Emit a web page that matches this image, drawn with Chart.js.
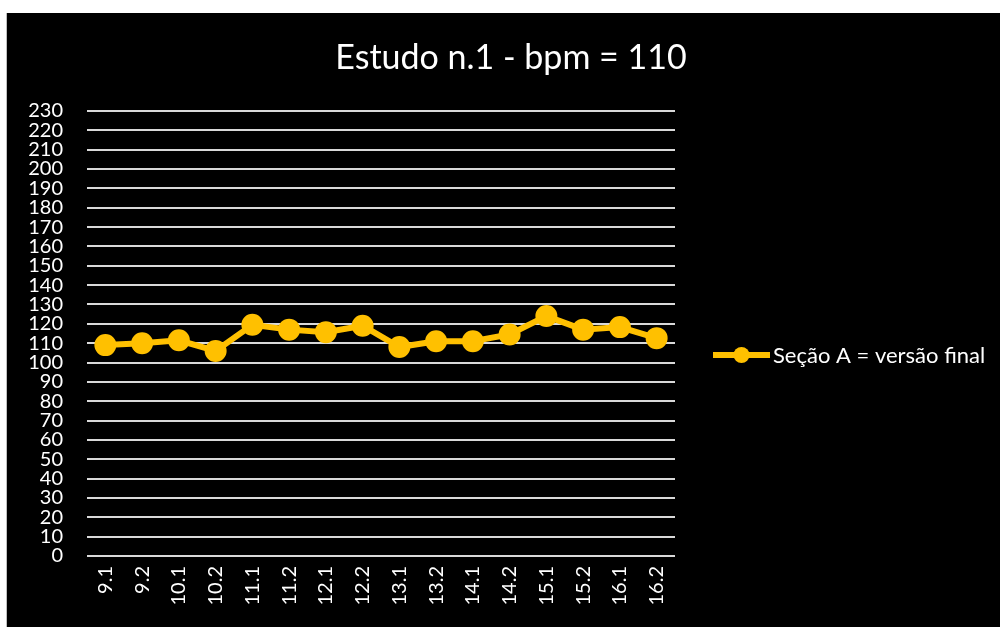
<!DOCTYPE html>
<html lang="pt-BR">
  <head>
    <meta charset="UTF-8" />
    <title>Estudo n.1</title>
    <script src="https://cdn.jsdelivr.net/npm/chart.js@4/dist/chart.umd.min.js"></script>
    <style>
      html, body { margin: 0; padding: 0; background: #fff; }
      .box {
        position: absolute;
        left: 6px;
        top: 13px;
        width: 994px;
        height: 614px;
        border-left: 1px solid #bfbfbf;
        background: #000;
      }
      canvas { display: block; }
    </style>
  </head>
  <body>
    <div class="box">
      <canvas id="chart" width="993" height="614"></canvas>
    </div>
    <script>
      const categorias = ["9.1", "9.2", "10.1", "10.2", "11.1", "11.2", "12.1", "12.2",
        "13.1", "13.2", "14.1", "14.2", "15.1", "15.2", "16.1", "16.2"];
      const bpm = [109, 110, 111.5, 106, 119.5, 117, 115.7, 119, 108, 111, 111, 114.5,
        124, 117, 118.3, 112.6];
      const serie = "Seção A = versão final";
      const titulo = "Estudo n.1 - bpm = 110";
      const yMin = 0, yMax = 230, yStep = 10;

      const amarelo = "#ffc000";
      const fonte = "Lato, 'Open Sans', sans-serif";

      // titulo e legenda desenhados a mao (o titulo do Excel fica centrado no grafico todo)
      const extras = {
        id: "extras",
        afterDraw(chart) {
          const ctx = chart.ctx;
          ctx.save();
          ctx.fillStyle = "#fff";
          ctx.font = "34px " + fonte;
          ctx.textAlign = "center";
          ctx.textBaseline = "middle";
          ctx.fillText(titulo, 504, 45);

          const y = 342;
          ctx.strokeStyle = amarelo;
          ctx.lineWidth = 6;
          ctx.beginPath();
          ctx.moveTo(706, y);
          ctx.lineTo(763, y);
          ctx.stroke();
          ctx.fillStyle = amarelo;
          ctx.beginPath();
          ctx.arc(734.5, y, 8, 0, Math.PI * 2);
          ctx.fill();
          ctx.fillStyle = "#fff";
          ctx.font = "22px " + fonte;
          ctx.textAlign = "left";
          ctx.fillText(serie, 766, y + 1);
          ctx.restore();
        },
      };

      new Chart(document.getElementById("chart"), {
        type: "line",
        data: {
          labels: categorias,
          datasets: [
            {
              label: serie,
              data: bpm,
              borderColor: amarelo,
              backgroundColor: amarelo,
              borderWidth: 6,
              pointRadius: 8,
              pointHoverRadius: 8,
              tension: 0,
            },
          ],
        },
        options: {
          responsive: false,
          animation: false,
          layout: { padding: { left: 0, right: 325, top: 98, bottom: 0 } },
          plugins: {
            legend: { display: false },
            tooltip: { enabled: false },
            title: { display: false },
          },
          scales: {
            x: {
              offset: true,
              grid: { display: false, drawTicks: false },
              border: { display: false },
              ticks: {
                color: "#fff",
                font: { family: fonte, size: 20 },
                maxRotation: 90,
                minRotation: 90,
                autoSkip: false,
                padding: 10,
              },
              afterFit(s) { s.height = 71; },
            },
            y: {
              min: yMin,
              max: yMax,
              grid: { color: "#d9d9d9", lineWidth: 2, drawTicks: false },
              border: { display: false },
              ticks: {
                stepSize: yStep,
                autoSkip: false,
                color: "#fff",
                font: { family: fonte, size: 20 },
                padding: 24,
              },
              afterFit(s) { s.width = 80; },
            },
          },
        },
        plugins: [extras],
      });
    </script>
  </body>
</html>
